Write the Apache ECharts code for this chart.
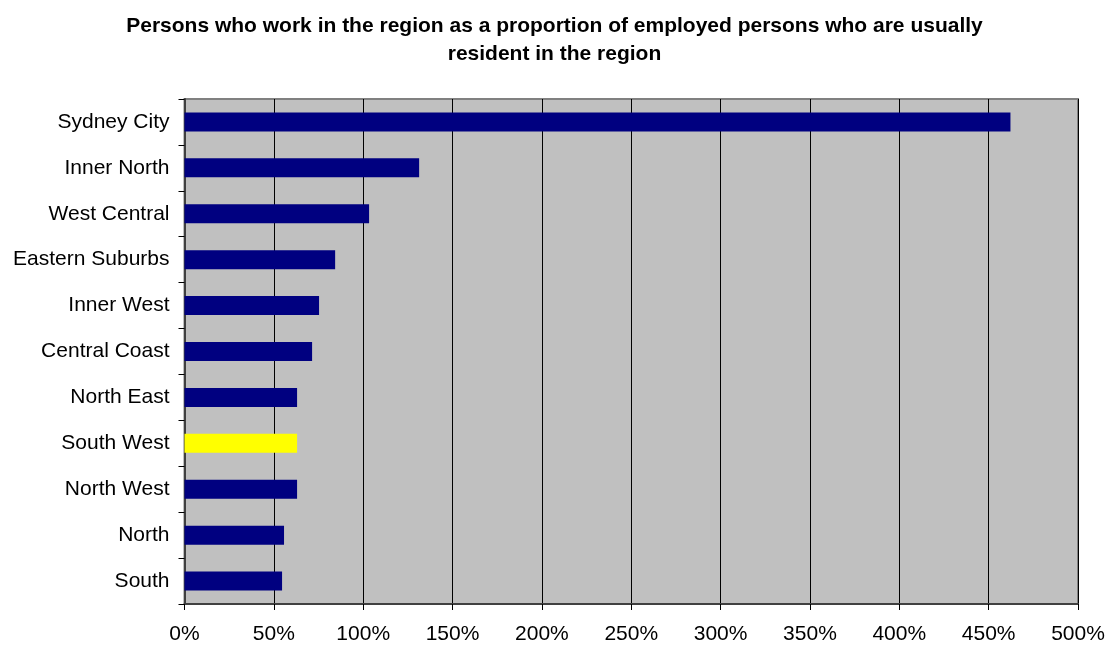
<!DOCTYPE html>
<html>
<head>
<meta charset="utf-8">
<script src="https://cdn.jsdelivr.net/npm/echarts@6/dist/echarts.min.js"></script>
<style>
  html, body { margin: 0; padding: 0; background: #fff; }
  #chart { width: 1109px; height: 648px; }
</style>
</head>
<body>
<div id="chart"></div>
<script>
const regions = ['Sydney City', 'Inner North', 'West Central', 'Eastern Suburbs', 'Inner West',
  'Central Coast', 'North East', 'South West', 'North West', 'North', 'South'];
const ratios = [462.2, 131.3, 103.3, 84.3, 75.3, 71.4, 63, 63, 63, 55.7, 54.6];
const highlight = 'South West';

const chart = echarts.init(document.getElementById('chart'));
chart.setOption({
  animation: false,
  textStyle: { fontFamily: 'Liberation Sans, Arial, sans-serif' },
  title: {
    text: 'Persons who work in the region as a proportion of employed persons who are usually\nresident in the region',
    left: 'center', top: 7,
    textStyle: { fontSize: 21, fontWeight: 'bold', color: '#000', lineHeight: 28 }
  },
  grid: {
    left: 184.5, right: 31, top: 99, bottom: 44,
    show: true, backgroundColor: '#C0C0C0', borderColor: '#808080', borderWidth: 2
  },
  xAxis: {
    type: 'value', min: 0, max: 500, interval: 50,
    axisLine: { show: true, lineStyle: { color: '#404040', width: 2 } },
    axisTick: { show: true, length: 6, lineStyle: { color: '#000' } },
    axisLabel: { formatter: '{value}%', fontSize: 21, color: '#000', margin: 20 },
    splitLine: { show: true, lineStyle: { color: '#000', width: 1 } }
  },
  yAxis: {
    type: 'category', data: regions, inverse: true,
    axisLine: { show: true, lineStyle: { color: '#404040', width: 2 } },
    axisTick: { show: true, length: 6, alignWithLabel: false, lineStyle: { color: '#000' } },
    axisLabel: { fontSize: 21, color: '#000', margin: 15 }
  },
  series: [{
    type: 'bar',
    barWidth: 19,
    data: regions.map((r, i) => ({
      value: ratios[i],
      itemStyle: { color: r === highlight ? '#FFFF00' : '#000080' }
    }))
  }]
});
</script>
</body>
</html>
